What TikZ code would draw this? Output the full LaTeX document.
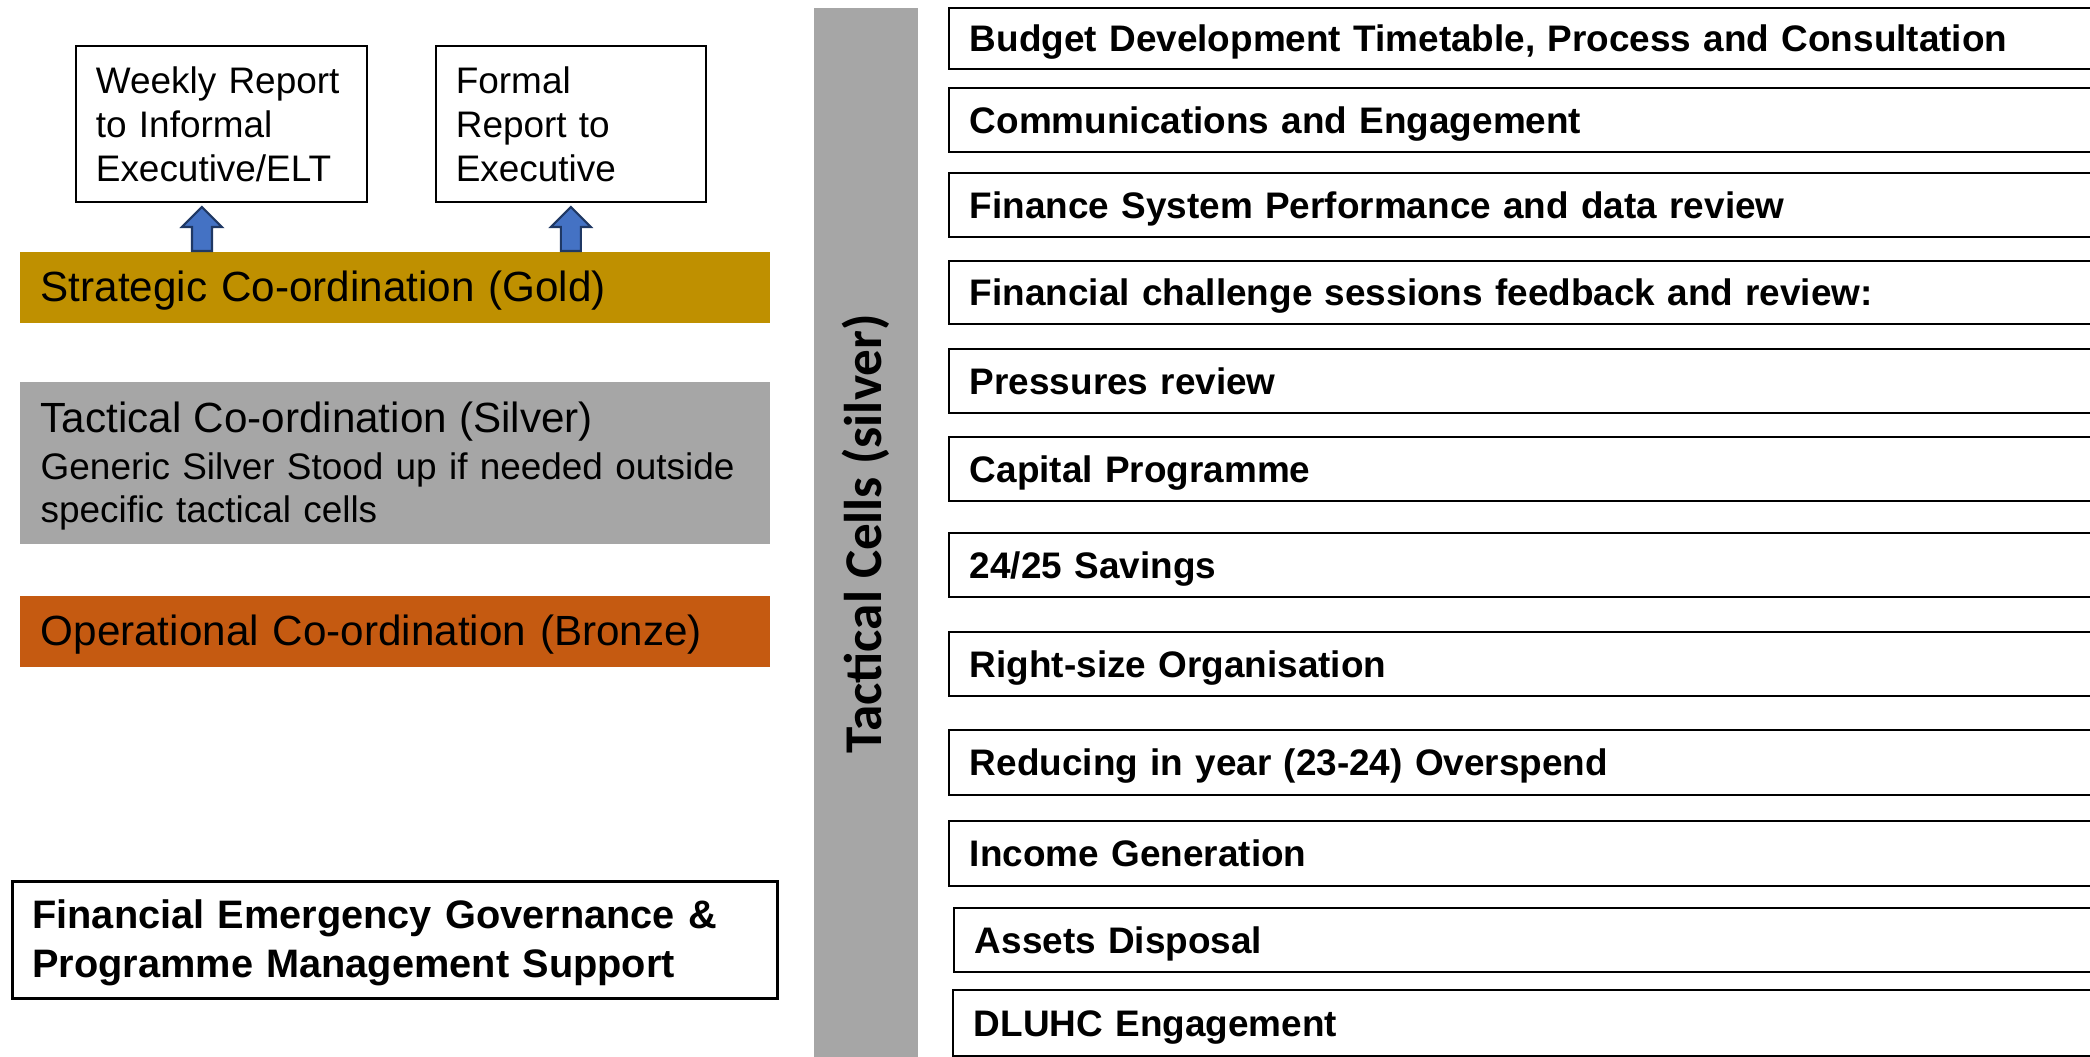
\documentclass[tikz,border=0pt]{standalone}
\usepackage{fontspec}
\setmainfont{Liberation Sans}
\newfontfamily\cellsfont{Carlito}
\usetikzlibrary{positioning, calc}
\definecolor{goldbar}{HTML}{BF9000}
\definecolor{silverbar}{HTML}{A6A6A6}
\definecolor{bronzebar}{HTML}{C55A11}
\definecolor{arrowblue}{HTML}{4472C4}
\definecolor{arrowedge}{HTML}{1F3864}
\tikzset{%
  report/.style={draw, line width=0.5pt, anchor=north west, align=left, inner xsep=0.2cm, minimum height=1.56cm, font=\fontsize{10.5}{12.5}\selectfont}, % boxes above the gold bar
  level/.style={anchor=north west, inner xsep=0.21cm, inner ysep=0pt, text width=7.08cm, align=left, font=\fontsize{12}{14}\selectfont},
  cell/.style={draw, line width=0.5pt, anchor=north west, inner xsep=0.21cm, inner ysep=0pt, text width=11.1cm, text height=0.85em, text depth=0.1em, align=left, font=\bfseries\fontsize{10.5}{12.6}\selectfont},
  upblock/.style={fill=arrowblue, draw=arrowedge, line width=0.6pt, line join=miter}
}

\begin{document}
\begin{tikzpicture}[x=0.01cm, y=-0.01cm]

\clip (0,0) rectangle (2090,1056);

\node[report, text width=2.51cm] (r0) at (75,45) {Weekly Report\\to Informal\\Executive/ELT};
\node[report, text width=2.3cm, anchor=west, right=0.67cm of r0] (r1) {Formal\\Report to\\Executive};

\node[level, fill=goldbar, minimum height=0.71cm, text height=0.85em, text depth=0.05em] (g0) at (19,251) {Strategic Co-ordination (Gold)};
\node[level, fill=silverbar, minimum height=1.62cm, font=\fontsize{10.5}{12.2}\selectfont] (s0) at (19,381)
  {\rule{0pt}{10.5pt}{\fontsize{12}{14}\selectfont Tactical Co-ordination (Silver)}\\[1pt]Generic Silver Stood up if needed outside\\specific tactical cells};
\node[level, fill=bronzebar, minimum height=0.71cm, text height=0.85em, text depth=0.05em] (b0) at (19,595) {Operational Co-ordination (Bronze)};

\node[draw, line width=0.75pt, anchor=north west, inner xsep=0.2cm, text width=7.25cm, minimum height=1.17cm, align=left,
  font=\bfseries\fontsize{11.3}{14}\selectfont] (f0) at (11,880) {\rule{0pt}{10pt}Financial Emergency Governance \&\\Programme Management Support};

% block arrows from the gold bar up to the reports
\draw[upblock] ($(r0.south |- g0.north)+(-29.5,0)$) -- ++(0,-24) -- ++(-10,0) -- ++(20,-20) -- ++(20,20) -- ++(-10,0) -- ++(0,24) -- cycle;
\draw[upblock] ($(r1.south |- g0.north)+(-10,0)$) -- ++(0,-24) -- ++(-10,0) -- ++(20,-20) -- ++(20,20) -- ++(-10,0) -- ++(0,24) -- cycle;

\node[fill=silverbar, rotate=90, minimum width=10.52cm, minimum height=1.04cm, inner sep=0pt,
  font=\cellsfont\bfseries\fontsize{15.1}{16}\selectfont] (tc) at (866,534) {Tactical Cells (silver)};

\foreach \x/\y/\h/\txt [count=\i] in {
  948/7/0.61/{Budget Development Timetable, Process and Consultation},
  948/87/0.64/Communications and Engagement,
  948/172/0.64/Finance System Performance and data review,
  948/260/0.63/Financial challenge sessions feedback and review:,
  948/348/0.64/Pressures review,
  948/436/0.64/Capital Programme,
  948/532/0.64/{24/25 Savings},
  948/631/0.64/Right-size Organisation,
  948/729/0.65/Reducing in year (23-24) Overspend,
  948/820/0.65/Income Generation,
  953/907/0.64/Assets Disposal,
  952/989/0.66/DLUHC Engagement}
  \node[cell, minimum height=\h cm] (c\i) at (\x,\y) {\txt};

\end{tikzpicture}
\end{document}
